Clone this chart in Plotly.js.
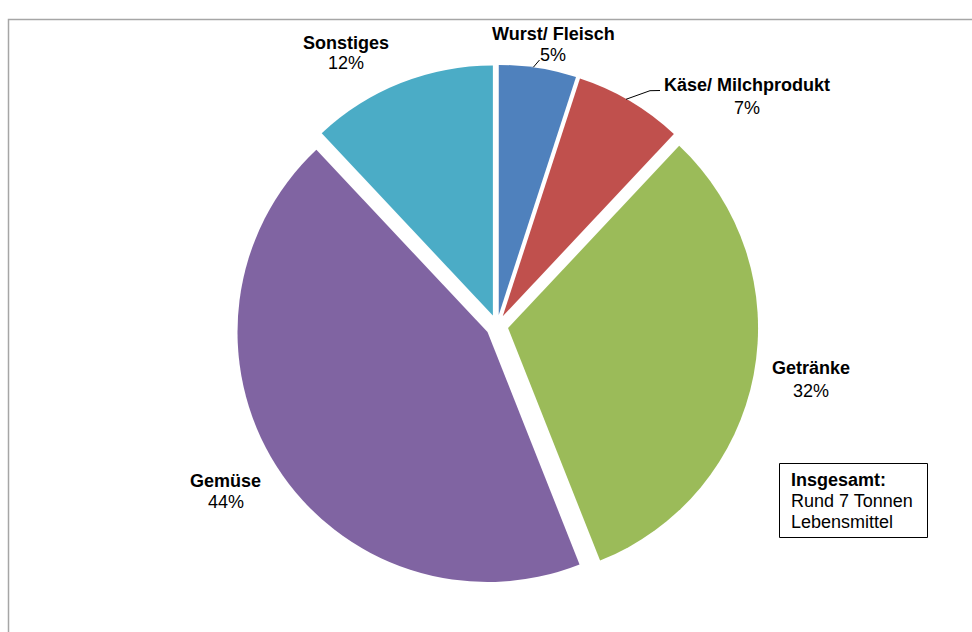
<!DOCTYPE html>
<html>
<head>
<meta charset="utf-8">
<script src="https://cdn.plot.ly/plotly-3.0.1.min.js"></script>
<style>
  html, body { margin: 0; padding: 0; background: #ffffff; }
  #chart { width: 972px; height: 632px; }
</style>
</head>
<body>
<div id="chart"></div>
<script>
// ---- data ----
const labels = ["Wurst/ Fleisch", "Käse/ Milchprodukt", "Getränke", "Gemüse", "Sonstiges"];
const values = [5, 7, 32, 44, 12];
const colors = ["#4F81BD", "#C0504D", "#9BBB59", "#8064A2", "#4BACC6"];
const noteLines = ["Insgesamt:", "Rund 7 Tonnen", "Lebensmittel"];

// ---- layout helpers (pixel positions of label centres) ----
const W = 972, H = 632;
const labelPos = [
  [553, 34, 55],
  [747, 85.5, 108],
  [811, 368, 391],
  [225.5, 481, 502],
  [345.5, 42.5, 63]
];
const px = x => x / W;
const py = y => 1 - y / H;

const FONT = "Liberation Sans, Arial, sans-serif";
const annotations = [];
labels.forEach((lab, i) => {
  const p = labelPos[i];
  annotations.push({
    xref: "paper", yref: "paper", x: px(p[0]), y: py(p[1]),
    xanchor: "center", yanchor: "middle", showarrow: false,
    text: "<b>" + lab + "</b>",
    font: {family: FONT, size: 18, color: "#000000"}
  });
  annotations.push({
    xref: "paper", yref: "paper", x: px(p[0]), y: py(p[2]),
    xanchor: "center", yanchor: "middle", showarrow: false,
    text: values[i] + "%",
    font: {family: FONT, size: 18, color: "#000000"}
  });
});
const noteY = [480, 501, 522];
noteLines.forEach((t, i) => {
  annotations.push({
    xref: "paper", yref: "paper", x: px(789), y: py(noteY[i]),
    xanchor: "left", yanchor: "middle", showarrow: false,
    text: i === 0 ? "<b>" + t + "</b>" : t,
    font: {family: FONT, size: 18, color: "#000000"}
  });
});

const shapes = [
  // chart frame
  {type: "rect", xref: "paper", yref: "paper",
   x0: px(8.5), x1: 1.02, y0: -0.02, y1: py(19.5),
   line: {color: "#A6A6A6", width: 1.5}, fillcolor: "rgba(0,0,0,0)"},
  // note box
  {type: "rect", xref: "paper", yref: "paper",
   x0: px(779.5), x1: px(927.5), y0: py(537.5), y1: py(463.5),
   line: {color: "#000000", width: 1}, fillcolor: "rgba(0,0,0,0)"},
  // leader lines
  {type: "path", xref: "paper", yref: "paper",
   path: "M " + px(533.3) + "," + py(67.3) + " L " + px(539.5) + "," + py(60),
   line: {color: "#000000", width: 1}},
  {type: "path", xref: "paper", yref: "paper",
   path: "M " + px(626) + "," + py(99.3) + " L " + px(650) + "," + py(90.7) + " L " + px(660) + "," + py(90.5),
   line: {color: "#000000", width: 1}}
];

const pull = 0.045;
const cx = 497, cy = 326, r = 250;
const half = r * (1 + pull);

const trace = {
  type: "pie",
  labels: labels,
  values: values,
  sort: false,
  direction: "clockwise",
  rotation: 0,
  pull: pull,
  textinfo: "none",
  hoverinfo: "label+percent",
  marker: {colors: colors, line: {color: "#FFFFFF", width: 0}},
  domain: {x: [px(cx - half), px(cx + half)], y: [py(cy + half), py(cy - half)]},
  showlegend: false,
  automargin: false
};

const layout = {
  width: W, height: H,
  margin: {l: 0, r: 0, t: 0, b: 0},
  paper_bgcolor: "#FFFFFF",
  showlegend: false,
  annotations: annotations,
  shapes: shapes,
  font: {family: FONT}
};

Plotly.newPlot("chart", [trace], layout, {displayModeBar: false, staticPlot: true});
</script>
</body>
</html>
